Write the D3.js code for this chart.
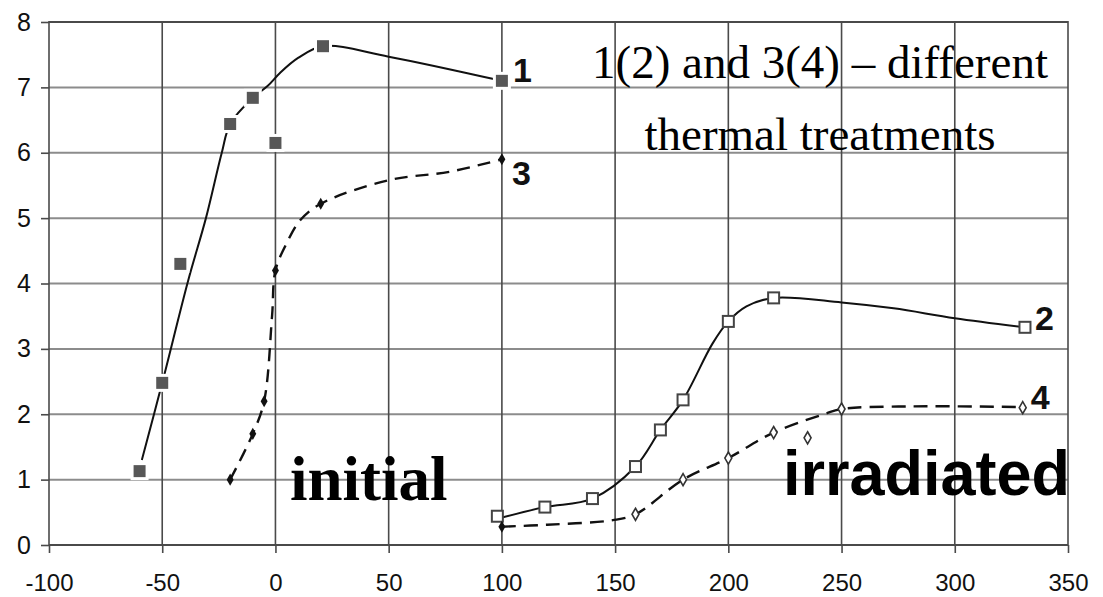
<!DOCTYPE html>
<html>
<head>
<meta charset="utf-8">
<script src="https://cdn.jsdelivr.net/npm/d3@7"></script>
<style>
  html, body { margin: 0; padding: 0; background: #fff; }
  svg { display: block; }
</style>
</head>
<body>
<svg id="chart" width="1103" height="597"></svg>
<script>
'use strict';

/**
 * Chart values
 */
const xTicks = [-100, -50, 0, 50, 100, 150, 200, 250, 300, 350];
const yTicks = [0, 1, 2, 3, 4, 5, 6, 7, 8];

// curve 1 (initial, filled squares)
const markers1 = [[-60, 1.13], [-50, 2.48], [-42, 4.3], [-20, 6.44], [-10, 6.84], [0, 6.15], [21, 7.63], [100, 7.1]];
const curve1 = [[-59, 1.3], [-50, 2.48], [-38.5, 4.05], [-30.7, 5], [-23.7, 6], [-20, 6.44], [-10, 6.84], [-3.5, 7.02],
  [2, 7.22], [10, 7.45], [21, 7.63], [50, 7.47], [100, 7.1]];

// curve 3 (initial, small black points)
const markers3 = [[-20, 1.0], [-10, 1.7], [-5, 2.2], [0, 4.2], [20, 5.22], [100, 5.9]];
const curve3 = [[-20, 1.0], [-10, 1.7], [-5, 2.2], [-1.5, 3.5], [0, 4.2], [5, 4.62], [11, 4.97], [20, 5.22],
  [50, 5.58], [77, 5.71], [100, 5.9]];

// curve 2 (irradiated, open squares)
const markers2 = [[98, 0.44], [119, 0.58], [140, 0.71], [159, 1.2], [170, 1.76], [180, 2.22], [200, 3.42], [220, 3.78], [331, 3.33]];
const curve2 = [[99, 0.41], [119, 0.58], [140, 0.71], [159, 1.2], [170, 1.76], [180, 2.22], [193, 3.08], [200, 3.42],
  [208, 3.65], [220, 3.78], [250, 3.71], [273, 3.62], [300, 3.47], [331, 3.33]];

// curve 4 (irradiated, small open points)
const markers4 = [[159, 0.47], [180, 1.0], [200, 1.33], [220, 1.72], [235, 1.64], [250, 2.08], [330, 2.1]];
const markers4Start = [[100, 0.28]];
const curve4 = [[100, 0.28], [120, 0.31], [149, 0.38], [159, 0.47], [180, 1.0], [200, 1.33], [220, 1.72],
  [243, 2.01], [250, 2.08], [280, 2.12], [330, 2.11]];

const curveLabels = ['1', '2', '3', '4'];
const noteLines = ['1(2) and 3(4) \u2013 different', 'thermal treatments'];
const groupLabels = ['initial', 'irradiated'];

/**
 * Layout
 */
const LEFT = 49;
const RIGHT = 1068;
const TOP = 22;
const BOTTOM = 545;
const TICK = 8;

const svg = d3.select('#chart');

const x = d3.scaleLinear().domain([-100, 350]).range([LEFT, RIGHT]);
const y = d3.scaleLinear().domain([0, 8]).range([BOTTOM, TOP]);

const line = d3.line()
  .x(d => x(d[0]))
  .y(d => y(d[1]))
  .curve(d3.curveCatmullRom.alpha(0.5));

// grid
const grid = svg.append('g').classed('grid', true);

grid.selectAll('.hgrid').data(yTicks).enter()
  .append('line').classed('hgrid', true)
  .attr('x1', LEFT).attr('x2', RIGHT)
  .attr('y1', d => y(d)).attr('y2', d => y(d))
  .attr('stroke', d => (d === 0 || d === 8) ? '#4a4a4a' : '#8c8c8c')
  .attr('stroke-width', 2);

grid.selectAll('.vgrid').data(xTicks).enter()
  .append('line').classed('vgrid', true)
  .attr('x1', d => x(d)).attr('x2', d => x(d))
  .attr('y1', TOP - 1).attr('y2', BOTTOM)
  .attr('stroke', '#4a4a4a')
  .attr('stroke-width', 1.6);

// axes (ticks + labels)
const xAxis = svg.append('g')
  .attr('transform', `translate(0,${BOTTOM})`)
  .call(d3.axisBottom(x).tickValues(xTicks).tickSize(TICK).tickPadding(21).tickFormat(d3.format('d')));

const yAxis = svg.append('g')
  .attr('transform', `translate(${LEFT},0)`)
  .call(d3.axisLeft(y).tickValues(yTicks).tickSize(TICK).tickPadding(10).tickFormat(d3.format('d')));

[xAxis, yAxis].forEach(axis => {
  axis.select('.domain').remove();
  axis.selectAll('line').attr('stroke', '#4a4a4a').attr('stroke-width', 1.6);
  axis.selectAll('text')
    .attr('fill', '#111')
    .style('font-family', 'Arial, "Liberation Sans", sans-serif');
});
xAxis.selectAll('text').style('font-size', '24px').text(d => d < 0 ? '-' + Math.abs(d) : d);
yAxis.selectAll('text').style('font-size', '25px');

// curves
const curves = svg.append('g').classed('curves', true);

curves.append('path').datum(curve1)
  .attr('d', line).attr('fill', 'none')
  .attr('stroke', '#111').attr('stroke-width', 2);

curves.append('path').datum(curve2)
  .attr('d', line).attr('fill', 'none')
  .attr('stroke', '#111').attr('stroke-width', 2);

curves.append('path').datum(curve3)
  .attr('d', line).attr('fill', 'none')
  .attr('stroke', '#111').attr('stroke-width', 2.4)
  .attr('stroke-dasharray', '13,8');

curves.append('path').datum(curve4)
  .attr('d', line).attr('fill', 'none')
  .attr('stroke', '#111').attr('stroke-width', 2.4)
  .attr('stroke-dasharray', '14,8');

// markers
const marks = svg.append('g').classed('markers', true);

// filled squares have a white halo that cuts the line
marks.selectAll('.m1').data(markers1).enter()
  .append('rect').classed('m1', true)
  .attr('x', d => x(d[0]) - 7.5).attr('y', d => y(d[1]) - 7.5)
  .attr('width', 15).attr('height', 15)
  .attr('fill', '#575757')
  .attr('stroke', '#fff').attr('stroke-width', 3);

marks.selectAll('.m2').data(markers2).enter()
  .append('rect').classed('m2', true)
  .attr('x', d => x(d[0]) - 5.5).attr('y', d => y(d[1]) - 5.5)
  .attr('width', 11).attr('height', 11)
  .attr('fill', '#fff')
  .attr('stroke', '#444').attr('stroke-width', 2);

const diamond = d3.symbol().type(d3.symbolDiamond).size(42);

marks.selectAll('.m3').data(markers3.concat(markers4Start)).enter()
  .append('path').classed('m3', true)
  .attr('d', diamond)
  .attr('transform', d => `translate(${x(d[0])},${y(d[1])})`)
  .attr('fill', '#111');

marks.selectAll('.m4').data(markers4).enter()
  .append('path').classed('m4', true)
  .attr('d', diamond)
  .attr('transform', d => `translate(${x(d[0])},${y(d[1])})`)
  .attr('fill', '#fff')
  .attr('stroke', '#333').attr('stroke-width', 1.6);

// curve numbers next to the last point of each curve
const ends = [
  {text: curveLabels[0], p: markers1[markers1.length - 1], dx: 11, dy: 1},
  {text: curveLabels[1], p: markers2[markers2.length - 1], dx: 10, dy: 3},
  {text: curveLabels[2], p: markers3[markers3.length - 1], dx: 10, dy: 26},
  {text: curveLabels[3], p: markers4[markers4.length - 1], dx: 8, dy: 1}
];

svg.append('g').selectAll('text').data(ends).enter()
  .append('text')
  .attr('x', d => x(d.p[0]) + d.dx)
  .attr('y', d => y(d.p[1]) + d.dy)
  .style('font-family', 'Arial, "Liberation Sans", sans-serif')
  .style('font-weight', 'bold')
  .style('font-size', '34px')
  .attr('fill', '#111')
  .text(d => d.text);

// note in the upper right
svg.append('g').selectAll('text').data(noteLines).enter()
  .append('text')
  .attr('x', 820)
  .attr('y', (d, i) => 78 + i * 72)
  .attr('text-anchor', 'middle')
  .style('font-family', '"Times New Roman", "Liberation Serif", serif')
  .style('font-size', '47px')
  .attr('fill', '#000')
  .text(d => d);

// group names
svg.append('text')
  .attr('x', 290).attr('y', 500)
  .style('font-family', '"Times New Roman", "Liberation Serif", serif')
  .style('font-weight', 'bold')
  .style('font-size', '63px')
  .attr('fill', '#000')
  .text(groupLabels[0]);

svg.append('text')
  .attr('x', 783).attr('y', 495)
  .style('font-family', 'Arial, "Liberation Sans", sans-serif')
  .style('font-weight', 'bold')
  .style('font-size', '63px')
  .attr('fill', '#000')
  .text(groupLabels[1]);
</script>
</body>
</html>
